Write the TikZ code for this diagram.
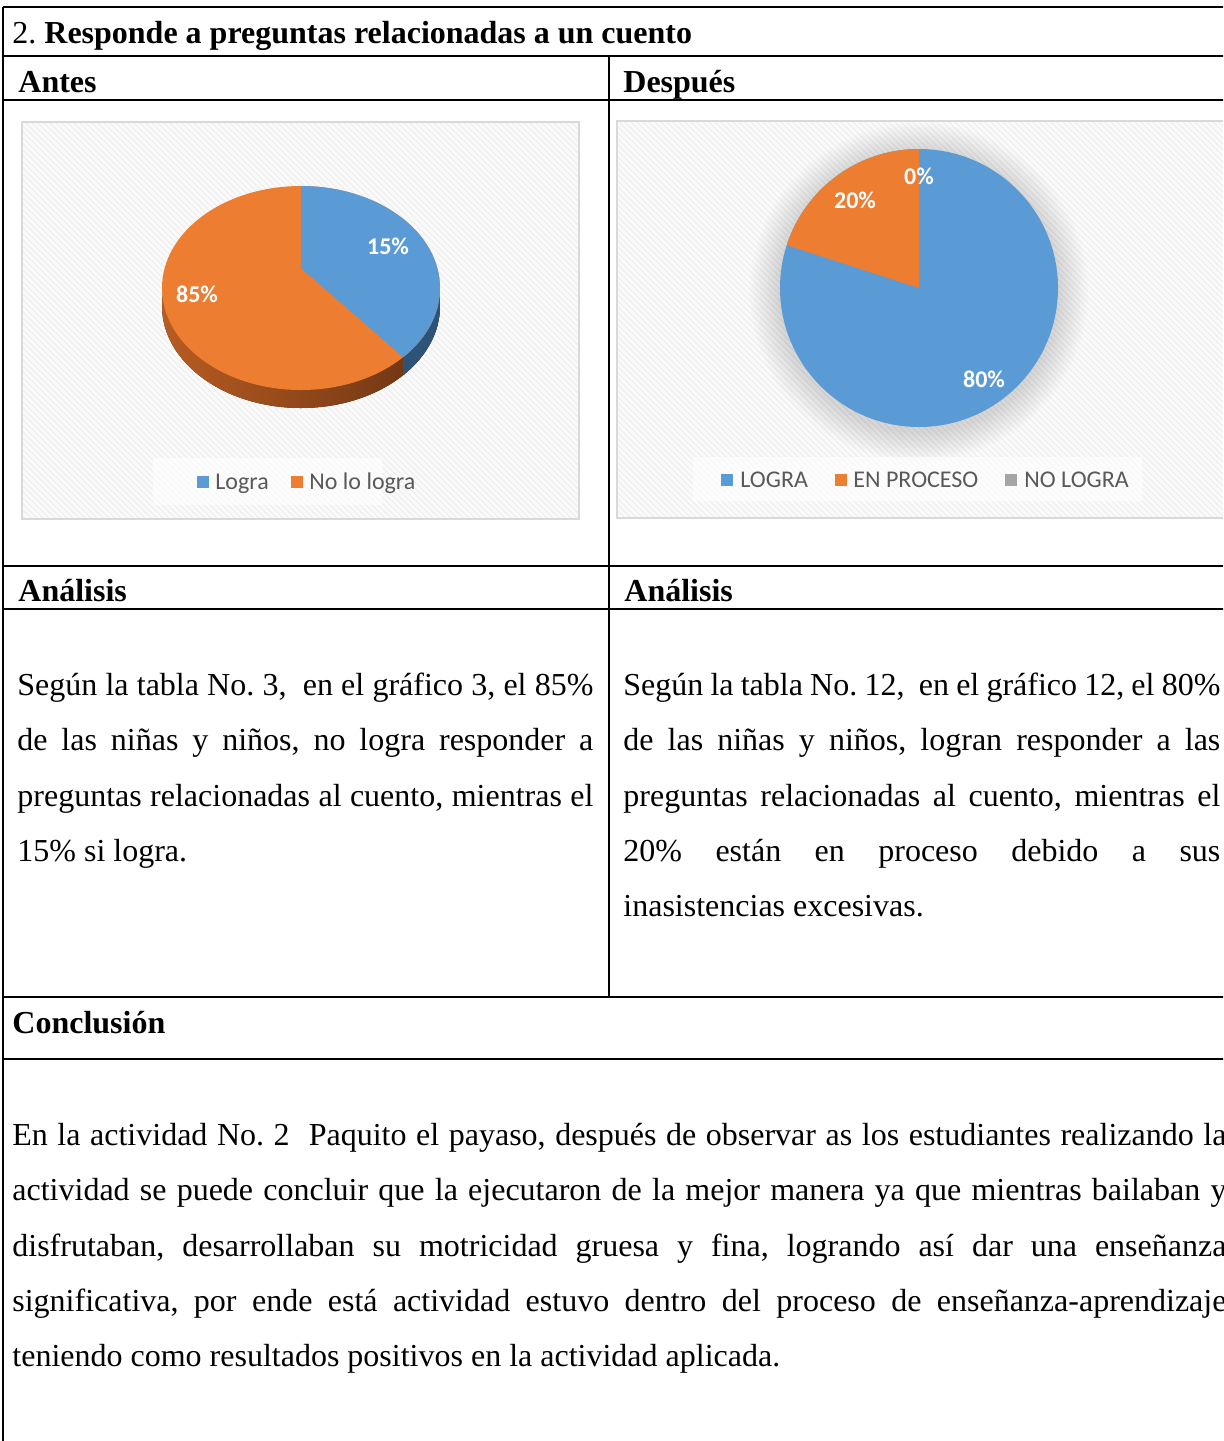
\documentclass[tikz,border=0pt]{standalone}
\usepackage{fontspec}
\setmainfont{Liberation Serif}
\newfontfamily\chartfont{Carlito}
\usetikzlibrary{calc,patterns}

\tolerance=10000
\hyphenpenalty=10000
\exhyphenpenalty=10000
\frenchspacing

\definecolor{pieblue}{HTML}{5B9BD5}
\definecolor{pieorange}{HTML}{ED7D31}
\definecolor{piegray}{HTML}{A5A5A5}
\definecolor{sideblue}{HTML}{2E5378}
\definecolor{sidebrownA}{HTML}{B85C22}
\definecolor{sidebrownB}{HTML}{6A3312}
\definecolor{legtext}{HTML}{595959}
\definecolor{boxline}{HTML}{D9D9D9}

\tikzset{
  rule/.style={line width=1pt},
  thinrule/.style={line width=0.6pt},
  head/.style={anchor=base west, inner sep=0pt, font=\fontsize{16}{19}\selectfont\bfseries},
  para/.style={anchor=north west, inner sep=0pt, align=justify, font=\fontsize{16}{27.65}\selectfont},
  chartbox/.style={draw=boxline, line width=1pt},
  pct/.style={inner sep=0pt, text=white, font=\chartfont\bfseries\fontsize{12}{14}\selectfont},
  legsq/.style={minimum size=6pt, inner sep=0pt},
  legtxt/.style={anchor=base west, inner sep=0pt, text=legtext, font=\chartfont\fontsize{12}{14}\selectfont},
}

\begin{document}
\begin{tikzpicture}[x=0.5pt,y=-0.5pt]
\useasboundingbox (0,0) rectangle (1223,1441);
\clip (0,0) rectangle (1223,1441);
\fill[white] (0,0) rectangle (1223,1441);

% chart backgrounds
\fill[gray!4] (22,122) rectangle (579,519);
\fill[pattern=north west lines, pattern color=gray!14] (22,122) rectangle (579,519);
\draw[chartbox] (22,122) rectangle (579,519);
\fill[gray!4] (617,121) rectangle (1240,518);
\fill[pattern=north west lines, pattern color=gray!14] (617,121) rectangle (1240,518);
\draw[chartbox] (617,121) rectangle (1240,518);

% left pie (3D)
\coordinate (la) at (301,268);
\coordinate (lp) at (403,357);
\fill[left color=sidebrownA, right color=sidebrownB] (301,306) ellipse (139 and 102);
\begin{scope}
\clip (403,300) rectangle (460,420);
\fill[sideblue] (301,306) ellipse (139 and 102);
\end{scope}
\fill[pieorange] (301,288) ellipse (139 and 102);
\begin{scope}
\clip (301,288) ellipse (139 and 102);
\fill[pieblue] (la) -- (301,170) -- (460,170) -- (460,420) -- ($(la)!1.6!(lp)$) -- cycle;
\end{scope}
\node[pct] (l15) at (388,246) {15\%};
\node[pct] (l85) at (197,294) {85\%};

% left legend
\fill[white, opacity=0.6] (153,458) rectangle (382,505);
\node[legsq, fill=pieblue] (lg1) at (203,482) {};
\node[legtxt] (lt1) at (215,489) {Logra};
\node[legsq, fill=pieorange] (lg2) at (297,482) {};
\node[legtxt] (lt2) at (309,489) {No lo logra};

% right pie
\coordinate (rc) at (919,288);
\foreach \k in {1,...,12}
  \fill[black, opacity=0.01] (919,292) circle (139+2.5*\k);
\fill[pieblue] (rc) circle (139);
\begin{scope}
\clip (rc) circle (139);
\fill[pieorange] (rc) -- (919,140) -- (740,140) -- (740,230) -- cycle;
\end{scope}
\node[pct] (r0) at (919,176) {0\%};
\node[pct] (r20) at (855,200) {20\%};
\node[pct] (r80) at (984,379) {80\%};

% right legend
\fill[white, opacity=0.6] (693,457) rectangle (1142,501);
\node[legsq, fill=pieblue] (rg1) at (727,480) {};
\node[legtxt] (rt1) at (740,487) {LOGRA};
\node[legsq, fill=pieorange] (rg2) at (841,480) {};
\node[legtxt] (rt2) at (853,487) {EN PROCESO};
\node[legsq, fill=piegray] (rg3) at (1011,480) {};
\node[legtxt] (rt3) at (1024,487) {NO LOGRA};

% table rules
\foreach \y in {7,56,100,566,609,997,1059}
  \draw[rule] (3,\y) -- (1240,\y);
\draw[rule] (3,7) -- (3,997);
\draw[thinrule] (3,997) -- (3,1441);
\draw[rule] (609,56) -- (609,997);

% headings
\node[head] (title) at (12,43) {\mdseries 2. \bfseries Responde a preguntas relacionadas a un cuento};
\node[head] (antes) at (18,92) {Antes};
\node[head] (despues) at (623,92) {Después};
\node[head] (anl) at (18,601) {Análisis};
\node[head] (anr) at (624,601) {Análisis};
\node[head] (concl) at (12,1033) {Conclusión};

% texts
\node[para, text width=288pt] (txtl) at (17,667) {\rule{0pt}{14pt}Según la tabla No. 3,\ \ en el gráfico 3, el 85\%\linebreak
de las niñas y niños, no logra responder a\linebreak
preguntas relacionadas al cuento, mientras el\linebreak
15\% si logra.};
\node[para, text width=298.5pt] (txtr) at (623,667) {\rule{0pt}{14pt}Según la tabla No. 12,\ \ en el gráfico 12, el 80\%\linebreak
de las niñas y niños, logran responder a las\linebreak
preguntas relacionadas al cuento, mientras el\linebreak
20\% están en proceso debido a sus\linebreak
inasistencias excesivas.};
\node[para, text width=607pt] (txtc) at (12,1117) {\rule{0pt}{14pt}En la actividad No. 2\ \ Paquito el payaso, después de observar as los estudiantes realizando la\linebreak
actividad se puede concluir que la ejecutaron de la mejor manera ya que mientras bailaban y\linebreak
disfrutaban, desarrollaban su motricidad gruesa y fina, logrando así dar una enseñanza\linebreak
significativa, por ende está actividad estuvo dentro del proceso de enseñanza-aprendizaje\linebreak
teniendo como resultados positivos en la actividad aplicada.};

\end{tikzpicture}
\end{document}
